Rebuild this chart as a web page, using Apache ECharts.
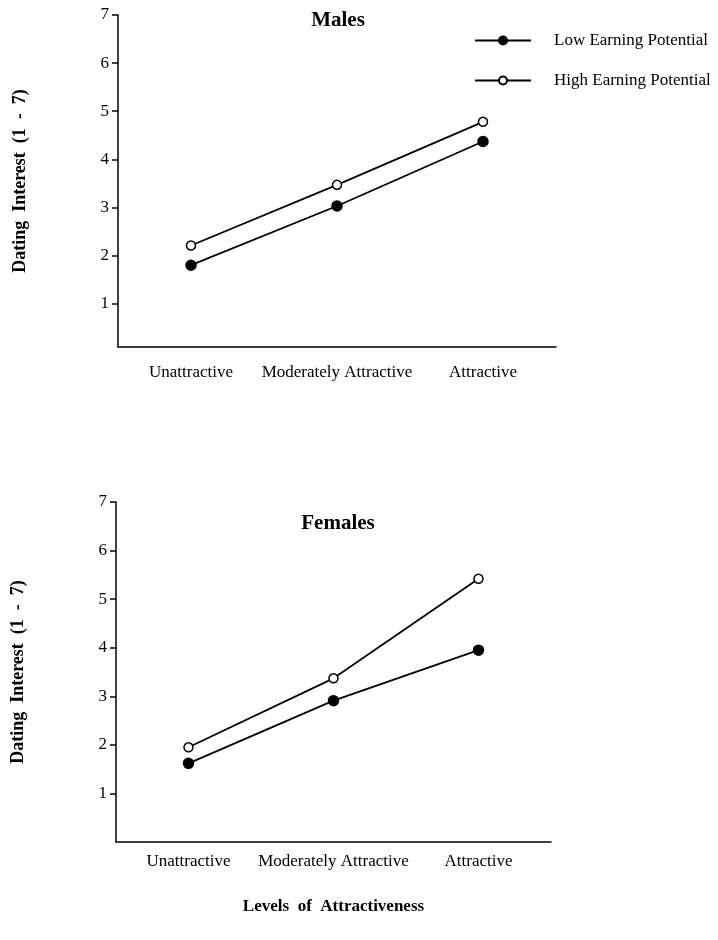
<!DOCTYPE html>
<html>
<head>
<meta charset="utf-8">
<script src="https://cdn.jsdelivr.net/npm/echarts@6/dist/echarts.min.js"></script>
<style>
  html, body { margin: 0; padding: 0; background: #fff; }
  #chart { width: 718px; height: 940px; }
</style>
</head>
<body>
<div id="chart"></div>
<script>
const categories = ['Unattractive', 'Moderately Attractive', 'Attractive']
const yTicks = [1, 2, 3, 4, 5, 6, 7]
const seriesNames = ['Low Earning Potential', 'High Earning Potential']

const malesLow = [1.8, 3.03, 4.37]
const malesHigh = [2.21, 3.47, 4.78]
const femalesLow = [1.62, 2.91, 3.95]
const femalesHigh = [1.95, 3.37, 5.42]

const font = '"Liberation Serif", "DejaVu Serif", serif'

const makeX = (gridIndex, withName, labelMargin) => ({
  type: 'category',
  gridIndex,
  data: categories,
  boundaryGap: true,
  axisLine: { lineStyle: { color: '#000', width: 1.5 } },
  axisTick: { alignWithLabel: true, interval: 0, length: 6, lineStyle: { color: '#000', width: 1.5 } },
  axisLabel: { color: '#000', fontFamily: font, fontSize: 17, margin: labelMargin, interval: 0, hideOverlap: false },
  splitLine: { show: false },
  name: withName ? 'Levels  of  Attractiveness' : '',
  nameLocation: 'middle',
  nameGap: 56,
  nameTextStyle: { color: '#000', fontFamily: font, fontSize: 17, fontWeight: 'bold' }
})

const makeY = (gridIndex, min) => ({
  type: 'value',
  gridIndex,
  min,
  max: 7,
  name: 'Dating  Interest  (1  -  7)',
  nameLocation: 'middle',
  nameGap: 89,
  nameTextStyle: { color: '#000', fontFamily: font, fontSize: 18, fontWeight: 'bold' },
  axisLine: { show: true, lineStyle: { color: '#000', width: 1.5 } },
  axisTick: { show: true, length: 6, customValues: yTicks, lineStyle: { color: '#000', width: 1.5 } },
  axisLabel: { color: '#000', fontFamily: font, fontSize: 17, margin: 9, customValues: yTicks },
  splitLine: { show: false }
})

const makeSeries = (name, data, idx, filled) => ({
  name,
  type: 'line',
  xAxisIndex: idx,
  yAxisIndex: idx,
  data,
  symbol: 'circle',
  symbolSize: filled ? 10 : 9,
  itemStyle: { color: filled ? '#000' : '#fff', borderColor: '#000', borderWidth: 1.5 },
  lineStyle: { color: '#000', width: 1.8 },
  emphasis: { disabled: true },
  z: filled ? 3 : 2
})

const chart = echarts.init(document.getElementById('chart'))
chart.setOption({
  backgroundColor: '#fff',
  animation: false,
  title: [
    { text: 'Males', left: 333, top: 5, textAlign: 'center',
      textStyle: { fontFamily: font, fontSize: 21, fontWeight: 'bold', color: '#000' } },
    { text: 'Females', left: 333, top: 508, textAlign: 'center',
      textStyle: { fontFamily: font, fontSize: 21, fontWeight: 'bold', color: '#000' } }
  ],
  legend: {
    data: seriesNames,
    orient: 'vertical',
    left: 469,
    top: 27,
    itemWidth: 56,
    itemHeight: 10,
    itemGap: 23,
    textStyle: { color: '#000', fontFamily: font, fontSize: 17, padding: [0, 0, 0, 18] }
  },
  grid: [
    { left: 118, right: 162, top: 15, height: 332 },
    { left: 116, right: 167, top: 502, height: 340 }
  ],
  xAxis: [makeX(0, false, 17), makeX(1, true, 11)],
  yAxis: [makeY(0, 0.1), makeY(1, 0)],
  series: [
    makeSeries(seriesNames[0], malesLow, 0, true),
    makeSeries(seriesNames[1], malesHigh, 0, false),
    makeSeries(seriesNames[0], femalesLow, 1, true),
    makeSeries(seriesNames[1], femalesHigh, 1, false)
  ]
})
</script>
</body>
</html>
